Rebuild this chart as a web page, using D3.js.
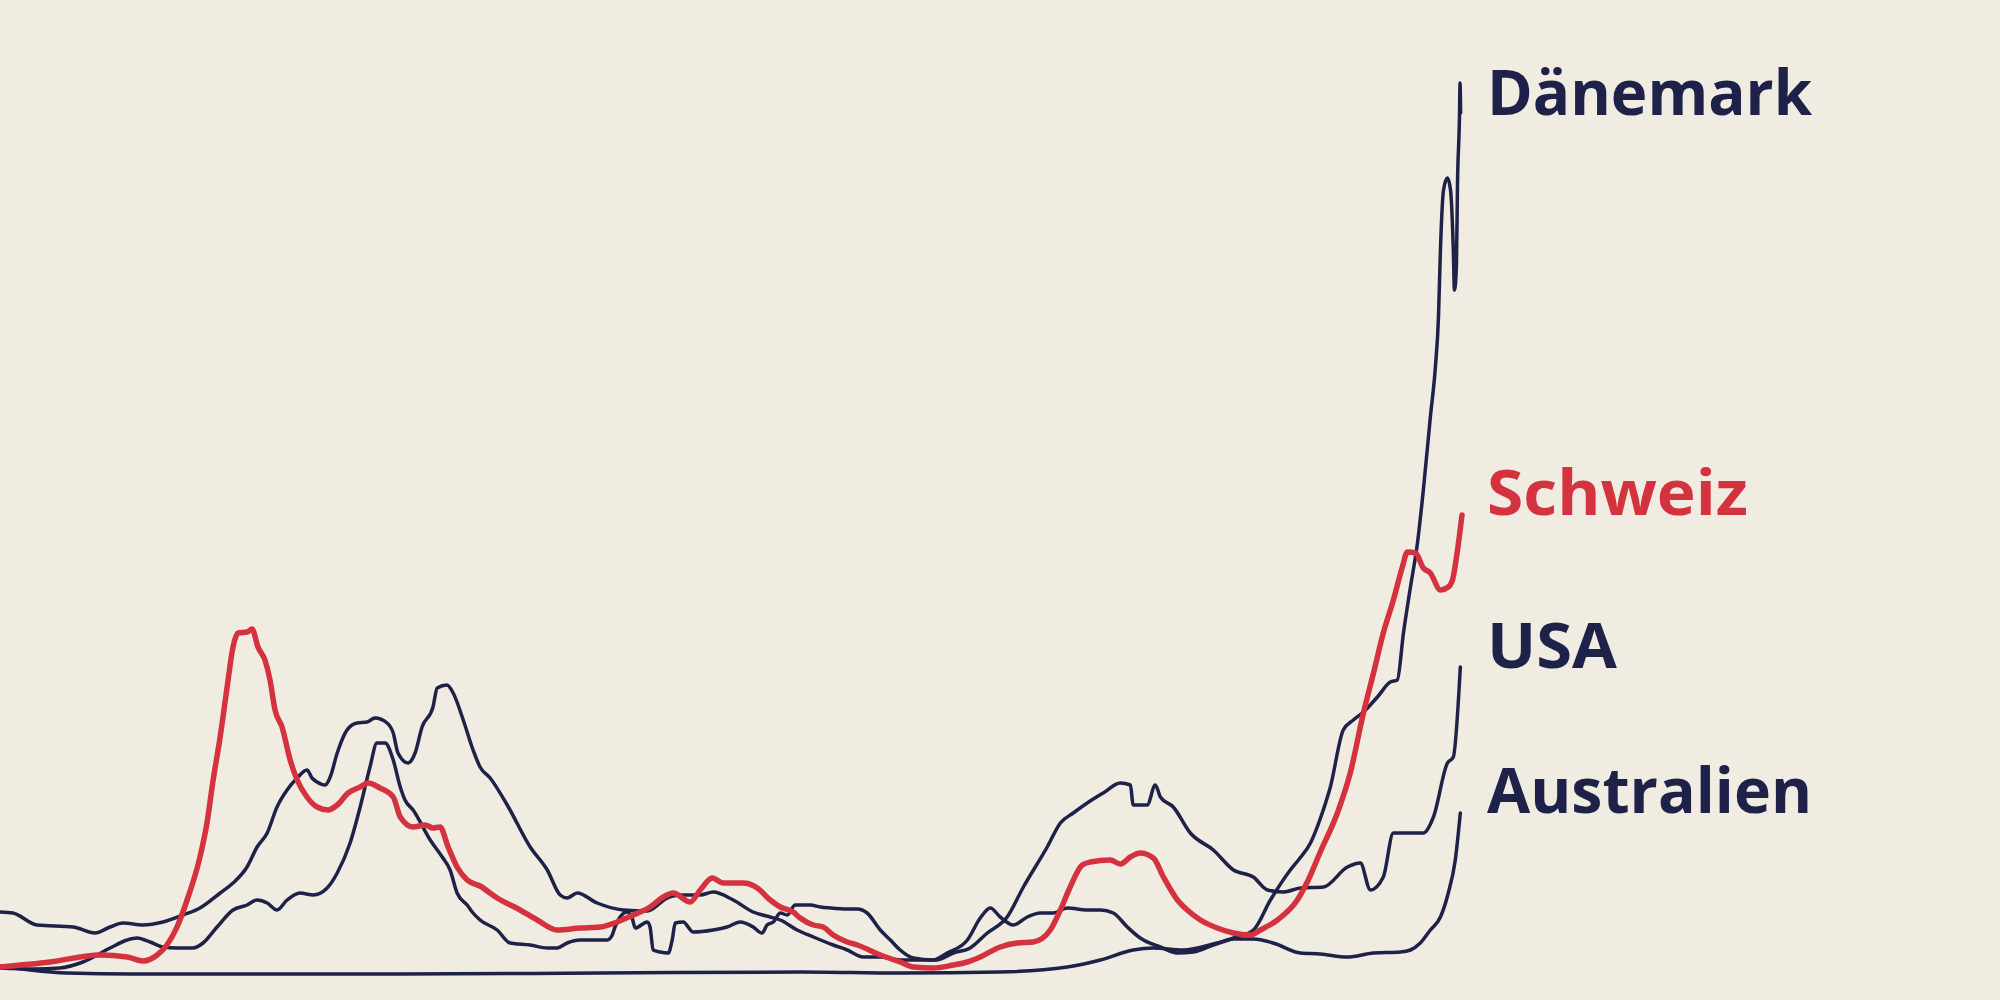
<!DOCTYPE html>
<html>
<head>
<meta charset="utf-8">
<script src="https://cdn.jsdelivr.net/npm/d3@7"></script>
<style>
  html, body { margin: 0; padding: 0; background: #F0ECE2; }
  svg { display: block; }
</style>
</head>
<body>
<svg id="chart" width="2000" height="1000"></svg>
<script>
// Days since start of series (approx. Aug 2020 → Jan 2022), 7-day avg new cases per million (estimated)
const countries = ["Dänemark", "Schweiz", "USA", "Australien"];

const australien = [
  [0,36],[10.7,20],[23.9,8],[47.5,4],[71.4,4],[142.9,4],[214.3,8],[285.7,12],[321.4,8],
  [357.1,12],[381.1,32],[392.9,60],[404.6,100],[411.8,108],[422.5,100],[434.6,128],[440.4,144],
  [447.5,144],[454.6,128],[464.3,88],[471.4,84],[481.1,72],[490.4,88],[500,92],[503.6,100],
  [507.1,128],[510.7,180],[514.3,232],[517.1,328],[519.6,460],[521.4,648]
];

const usa = [
  [0,252],[4.6,248],[13.2,200],[26.1,192],[33.9,168],[39.3,192],[43.9,208],[51.1,200],[58.2,212],
  [65.4,240],[71.4,268],[78.6,328],[83.2,368],[88.2,432],[91.8,512],[95.4,568],[98.9,672],
  [102.5,740],[106.1,788],[109.6,820],[111.4,788],[113.2,772],[116.1,760],[117.9,792],[120.4,888],
  [123.9,980],[127.5,1008],[131.1,1012],[133.9,1028],[138.2,1008],[140.4,968],[142.1,888],
  [145.7,848],[148.2,888],[150.7,992],[154.6,1072],[156.1,1148],[159.6,1160],[161.8,1128],
  [165.4,1020],[168.9,900],[171.4,832],[175,788],[181.1,680],[189.3,512],[195.4,420],[200,320],
  [202.5,308],[206.1,328],[213.2,288],[222.5,260],[231.1,256],[238.2,308],[242.9,320],[250,320],
  [254.6,332],[261.8,300],[268.9,252],[275,232],[278.6,220],[284.6,180],[290.4,152],[297.5,120],
  [302.5,100],[308.2,72],[314.3,72],[321.4,60],[328.6,60],[334.6,60],[340.4,88],[346.4,108],
  [352.5,168],[359.6,232],[365.4,352],[373.9,512],[378.6,608],[383.2,648],[388.2,688],[393.9,728],
  [400,768],[403.6,760],[404.6,680],[409.6,680],[412.5,760],[414.3,712],[418.9,672],[425,568],
  [433.2,500],[440.4,420],[447.5,392],[452.5,340],[458.2,332],[464.3,348],[472.5,352],[481.1,432],
  [485.7,448],[489.3,340],[493.9,392],[497.5,568],[508.2,568],[511.8,632],[516.8,848],[518.9,872],
  [521.4,1232]
];

const daenemark = [
  [0,28],[11.8,24],[21.4,28],[29.6,52],[39.3,108],[45.4,140],[48.9,148],[53.6,132],[58.2,112],
  [63.2,108],[68.9,108],[72.5,128],[77.5,192],[83.2,260],[88.2,280],[91.8,300],[95.4,288],
  [98.9,260],[102.5,300],[107.1,328],[111.8,320],[116.8,348],[120.4,408],[125,528],[128.6,672],
  [132.1,832],[134.6,928],[137.5,928],[140.4,860],[142.9,752],[144.6,700],[147.5,660],[153.6,540],
  [157.9,472],[160.7,420],[163.2,328],[166.8,280],[168.9,248],[171.4,220],[177.5,180],[182.1,128],
  [189.3,120],[195.4,108],[198.9,108],[202.5,128],[207.1,140],[216.8,140],[218.6,160],[219.6,192],
  [223.9,252],[225.7,228],[226.8,188],[231.1,212],[232.1,192],[233.2,100],[235.7,92],[238.6,88],
  [240,140],[241.1,208],[243.9,212],[247.5,172],[254.6,180],[259.6,192],[264.3,212],[268.9,192],
  [272.1,168],[273.9,200],[276.1,212],[278.6,248],[281.1,240],[283.9,280],[289.3,280],[292.9,272],
  [296.4,268],[302.5,264],[306.1,264],[309.6,248],[314.3,180],[317.9,140],[321.4,100],[326.1,68],
  [333.2,60],[338.2,88],[345.4,140],[350,228],[353.6,268],[357.1,232],[361.8,200],[366.8,232],
  [371.4,248],[376.1,248],[381.1,268],[388.2,260],[392.9,260],[397.5,248],[402.5,192],[407.1,148],
  [414.3,112],[420.4,88],[426.1,92],[433.2,120],[440.4,148],[447.5,180],[453.6,300],[460.7,420],
  [463.6,460],[467.9,528],[472.1,648],[475,752],[479.6,980],[483.2,1020],[486.8,1052],[491.8,1112],
  [496.4,1172],[498.9,1180],[501.1,1368],[503.6,1552],[506.1,1728],[508.2,1940],[510.7,2232],
  [512.5,2432],[513.6,2632],[514.3,2900],[515.4,3140],[516.8,3188],[517.9,3140],[518.9,2900],
  [519.3,2740],[520,2832],[520.4,3168],[521.1,3432],[521.3,3568],[521.5,3448]
];

const schweiz = [
  [0,32],[17.9,52],[35.7,80],[45.4,72],[51.1,56],[56.1,80],[59.6,120],[63.2,192],[66.8,300],
  [71.4,472],[73.9,608],[76.1,780],[78.6,952],[81.1,1152],[83.2,1312],[85,1368],[88.2,1372],
  [90,1384],[92.1,1312],[94.6,1260],[96.4,1180],[98.2,1060],[100.7,992],[103.6,860],[106.1,780],
  [109.6,712],[113.2,672],[117.1,660],[120.4,680],[124.3,728],[128.6,752],[131.4,768],[135.7,748],
  [140.4,712],[142.9,632],[147.5,592],[151.8,600],[154.6,588],[157.1,592],[160,512],[163.2,432],
  [166.8,380],[171.4,356],[177.5,308],[185.7,260],[191.8,220],[198.9,180],[207.1,188],[214.3,192],
  [220.4,212],[226.1,240],[232.1,272],[236.8,312],[240.4,328],[246.4,292],[250,340],[254.3,388],
  [258.2,368],[265.4,368],[270.4,348],[275,300],[278.6,272],[283.2,252],[285.7,228],[290.4,200],
  [293.9,192],[297.5,160],[302.5,132],[306.1,120],[314.3,80],[321.4,52],[326.1,32],[333.2,28],
  [340.4,40],[345.4,52],[350,72],[357.1,112],[363.2,128],[368.9,132],[375,180],[378.6,260],
  [382.1,352],[386.4,440],[389.3,452],[396.4,460],[400,444],[403.6,472],[407.1,488],[411.8,468],
  [415.4,392],[420.4,300],[423.9,260],[428.6,220],[434.6,188],[440.4,168],[446.4,160],[450,180],
  [456.1,220],[463.2,300],[467.1,380],[471.4,492],[477.5,648],[482.1,808],[486.8,1048],[490.4,1208],
  [493.9,1368],[497.5,1500],[500.7,1632],[502.5,1692],[505.4,1688],[508.2,1628],[510.7,1608],
  [514.3,1540],[517.1,1552],[518.6,1580],[520.4,1700],[522,1840]
];

const seriesData = [australien, usa, daenemark, schweiz];
const seriesNames = ["Australien", "USA", "Dänemark", "Schweiz"];

// ---- styling (kept separate from data)
const BG = "#F0ECE2";
const NAVY = "#1E2148";
const RED = "#D5323F";
const colorOf = n => n === "Schweiz" ? RED : NAVY;
const widthOf = n => n === "Schweiz" ? 5.5 : 3.5;

const svg = d3.select("#chart");
svg.append("rect").attr("width", 2000).attr("height", 1000).attr("fill", BG);

const x = d3.scaleLinear().domain([0, 522]).range([0, 1462]);
const y = d3.scaleLinear().domain([0, 3600]).range([975, 75]);

const line = d3.line()
  .x(d => x(d[0]))
  .y(d => y(d[1]))
  .curve(d3.curveMonotoneX);

svg.append("g").selectAll("path")
  .data(seriesData.map((v, i) => ({ name: seriesNames[i], values: v })))
  .join("path")
  .attr("d", d => line(d.values))
  .attr("fill", "none")
  .attr("stroke", d => colorOf(d.name))
  .attr("stroke-width", d => widthOf(d.name))
  .attr("stroke-linejoin", "round")
  .attr("stroke-linecap", "round");

// labels
const labelText = ["Dänemark", "Schweiz", "USA", "Australien"];
const labelBaseline = [115, 515, 668, 813];
const labelWidth = [325, 261, 130, 325];

svg.append("g").selectAll("text")
  .data(labelText)
  .join("text")
  .attr("x", 1487)
  .attr("y", (d, i) => labelBaseline[i])
  .attr("font-family", "'Open Sans', 'Noto Sans', sans-serif")
  .attr("font-weight", 700)
  .attr("font-size", 63)
  .attr("fill", d => colorOf(d))
  .attr("textLength", (d, i) => labelWidth[i])
  .attr("lengthAdjust", "spacingAndGlyphs")
  .text(d => d);
</script>
</body>
</html>
